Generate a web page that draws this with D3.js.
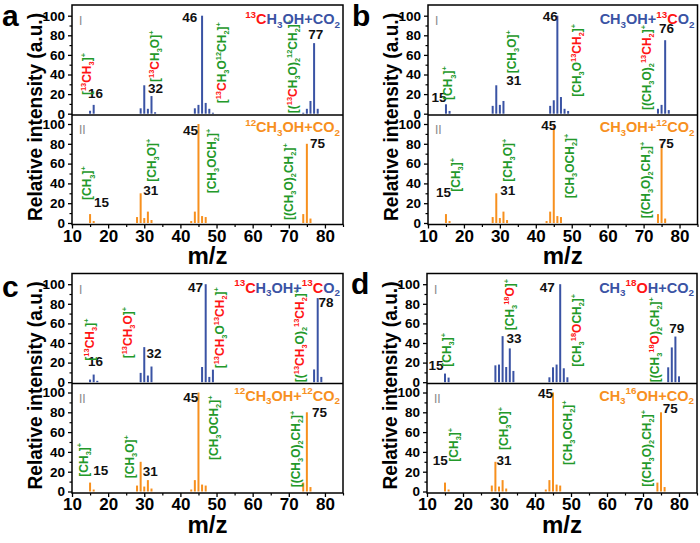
<!DOCTYPE html>
<html><head><meta charset="utf-8">
<script src="https://cdn.jsdelivr.net/npm/d3@7"></script>
<style>body{margin:0;background:#fff}svg{display:block}</style>
</head><body>
<script>
// ---------------- DATA ----------------
const xTicks = [10,20,30,40,50,60,70,80];
const yTicks = [0,20,40,60,80,100];

// panel a, spectrum I (13CH3OH + CO2)
const mzA = [15,16,29,30,31,32,33,44,45,46,47,48,49,74,75,76,77,78];
const intA = [3,9,5.5,29,5,18,1.5,5.5,9,100,11,5,1,1,5,13,72,5];
// panel b, spectrum I (CH3OH + 13CO2)
const mzB = [15,16,28,29,30,31,44,45,46,47,48,49,74,75,76,77];
const intB = [9.6,2.8,8,29,9,13,8,13.7,100,17,5,2.8,5,9,75,3.7];
// panel c, spectrum I (13CH3OH + 13CO2)
const mzC = [15,16,17,29,30,31,32,46,47,48,49,77,78,79];
const intC = [2.7,7.8,1.4,9.5,35.8,6.8,16,15.5,100,5.4,12.8,13,85.8,5.4];
// panel d, spectrum I (CH3 18OH + CO2)
const mzD = [15,16,29,30,31,32,33,34,44,45,46,47,48,49,77,78,79,80];
const intD = [8.8,4.7,17.2,18,47,15.5,34.5,11.5,5,15.2,18,100,14.2,5,15.2,35.5,46.6,6];
// spectrum II (unlabelled reference, same in all panels)
const mzRef = [15,16,28,29,30,31,32,43,44,45,46,47,74,75,76];
const intRef = [9,2,6,30,5,11.5,3,2,11.5,100,7,6,9,80,4.5];

// titles ({} = red part, ^ superscript, _ subscript)
const titlesTop = ["{^13C}H_3OH+CO_2","CH_3OH+{^13C}O_2","{^13C}H_3OH+{^13C}O_2","CH_3{^18O}H+CO_2"];
const titlesBot = ["^12CH_3OH+CO_2","CH_3OH+^12CO_2","^12CH_3OH+^12CO_2","CH_3^16OH+CO_2"];

// fragment labels: [markup, m/z anchor, intensity anchor]
const fragA = [["[{^13CH_3}]^+",14,19],["[{^13C}H_3O]^+",32.9,32.4],["[{^13C}H_3O^12CH_2]^+",51.5,10.6],["[({^13C}H_3O)_2^12CH_2]^+",71.1,0.5]];
const fragB = [["[CH_3]^+",15.6,14],["[CH_3O]^+",33.2,41.2],["[CH_3O{^13CH_2}]^+",51.4,17.3],["[(CH_3O)_2{^13CH_2}]^+",70.8,3.8]];
const fragC = [["[{^13CH_3}]^+",14.9,22],["[{^13CH_3O}]^+",25.5,24.4],["[{^13CH}_3O{^13CH_2}]^+",50.9,14.2],["[({^13CH_3}O)_2{^13CH_2}]^+",73.1,0]];
const fragD = [["[CH_3]^+",15.5,15.8],["[CH_3{^18O}]^+",33,53],["[CH_3{^18O}CH_2]^+",51.5,15.8],["[(CH_3{^18O})_2CH_2]^+",73.2,0]];
const fragRefA = [["[CH_3]^+",14.2,23.2],["[CH_3O]^+",32.1,41.7],["[CH_3OCH_2]^+",48.7,30],["[(CH_3O)_2CH_2]^+",69.9,3]];
const fragRefB = [["[CH_3]^+",17.8,31.6],["[CH_3O]^+",32.2,41.7],["[CH_3OCH_2]^+",49.3,25],["[(CH_3O)_2CH_2]^+",70.5,4.7]];
const fragRefC = [["[CH_3]^+",13.1,15],["[CH_3O]^+",25.9,13.4],["[CH_3OCH_2]^+",49.1,31.8],["[(CH_3O)_2CH_2]^+",71.8,4.2]];
const fragRefD = [["[CH_3]^+",17.3,30.1],["[CH_3O]^+",31.4,41.9],["[CH_3OCH_2]^+",49.1,26.8],["[(CH_3O)_2CH_2]^+",70.9,4.8]];

// peak number labels: [text, m/z anchor (left), intensity anchor]
const numA = [["16",14.4,16],["32",31.05,20.8],["46",40.5,94],["77",75.4,76]];
const numB = [["15",11,12.2],["31",31.8,29.3],["46",41.9,95],["76",74.3,82]];
const numC = [["16",14.4,16.5],["32",30.6,25],["47",42.1,92.3],["78",78.2,77]];
const numD = [["15",10.4,12.4],["33",32.1,39.7],["47",41.3,92.3],["79",77.3,50]];
const numRefA = [["15",16.1,16.5],["31",29.75,28.3],["45",40.75,88.9],["75",75.9,75.5]];
const numRefB = [["15",12.2,26.6],["31",30.1,28.3],["45",41.5,94],["75",74.2,75.5]];
const numRefC = [["15",15.9,16.7],["31",29.6,15.7],["45",40.8,90.7],["75",76.4,75.5]];
const numRefD = [["15",11.6,26.8],["31",29.3,26.8],["45",40.8,94.1],["75",75.5,79]];

// ---------------- LAYOUT / STYLE ----------------
const FONT = "'Liberation Sans', Arial, Helvetica, sans-serif";
const BLUE = "#3a53a4", ORANGE = "#f7901e", RED = "#ff1414", GREEN = "#23992a";
const panels = [
  {id:"a", left:72, right:343, T:5, lx:2, ly:26, top:{mz:mzA,v:intA,frag:fragA,num:numA}, bot:{mz:mzRef,v:intRef,frag:fragRefA,num:numRefA}},
  {id:"b", left:428, right:697.5, T:5, lx:352, ly:26, top:{mz:mzB,v:intB,frag:fragB,num:numB}, bot:{mz:mzRef,v:intRef,frag:fragRefB,num:numRefB}},
  {id:"c", left:72, right:343, T:273.5, lx:2, ly:297, top:{mz:mzC,v:intC,frag:fragC,num:numC}, bot:{mz:mzRef,v:intRef,frag:fragRefC,num:numRefC}},
  {id:"d", left:427, right:697, T:273.5, lx:351, ly:294, top:{mz:mzD,v:intD,frag:fragD,num:numD}, bot:{mz:mzRef,v:intRef,frag:fragRefD,num:numRefD}}
];

const svg = d3.select("body").append("svg").attr("width",700).attr("height",543)
  .style("font-family",FONT);

function parse(markup){
  const segs=[]; let red=false;
  for(let i=0;i<markup.length;i++){
    const c=markup[i];
    if(c==="{"){red=true;continue;}
    if(c==="}"){red=false;continue;}
    if(c==="^"||c==="_"){
      let t=""; i++;
      while(i<markup.length && /[0-9+]/.test(markup[i])){t+=markup[i];i++;}
      i--;
      segs.push({t,red,mode:c==="^"?"sup":"sub"});
      continue;
    }
    const last=segs[segs.length-1];
    if(last && last.mode==="n" && last.red===red) last.t+=c;
    else segs.push({t:c,red,mode:"n"});
  }
  return segs;
}
function rich(text, markup, base, fs, small){
  let cur=0;
  parse(markup).forEach(s=>{
    const target = s.mode==="sup" ? -0.42*fs : s.mode==="sub" ? 0.26*fs : 0;
    text.append("tspan").text(s.t)
      .attr("fill", s.red?RED:base)
      .attr("font-size", s.mode==="n"? fs : fs*small)
      .attr("dy", target-cur);
    cur=target;
  });
}

panels.forEach((p,idx)=>{
  const g = svg.append("g");
  const x = d3.scaleLinear().domain([10,85]).range([p.left,p.right]);
  const yTop = d3.scaleLinear().domain([0,100]).range([p.T+108.7,p.T+10.7]);
  const yBot = d3.scaleLinear().domain([0,100]).range([p.T+218,p.T+119]);
  const bottom = p.T+219.5;

  // y axes
  [yTop,yBot].forEach(y=>{
    const ax = g.append("g").attr("transform",`translate(${p.left},0)`)
      .call(d3.axisLeft(y).tickValues(yTicks).tickSize(4).tickPadding(3));
    ax.select(".domain").remove();
    ax.selectAll("line").attr("stroke","#000").attr("stroke-width",1.3);
    ax.selectAll("text").attr("font-size",13.5).attr("font-weight","bold").attr("font-family",FONT).attr("fill","#000");
    const mn = g.append("g").attr("transform",`translate(${p.left},0)`)
      .call(d3.axisLeft(y).tickValues([10,30,50,70,90]).tickSize(2.5).tickFormat(""));
    mn.select(".domain").remove();
    mn.selectAll("line").attr("stroke","#000").attr("stroke-width",1.2);
  });
  // x axis
  const xa = g.append("g").attr("transform",`translate(0,${bottom})`)
    .call(d3.axisBottom(x).tickValues(xTicks).tickSize(4).tickPadding(1));
  xa.select(".domain").remove();
  xa.selectAll("line").attr("stroke","#000").attr("stroke-width",1.3);
  xa.selectAll("text").attr("font-size",17).attr("font-weight","bold").attr("font-family",FONT).attr("fill","#000");
  const xm = g.append("g").attr("transform",`translate(0,${bottom})`)
    .call(d3.axisBottom(x).tickValues([15,25,35,45,55,65,75,85]).tickSize(2.5).tickFormat(""));
  xm.select(".domain").remove();
  xm.selectAll("line").attr("stroke","#000").attr("stroke-width",1.2);

  // bars
  [[p.top,yTop,BLUE],[p.bot,yBot,ORANGE]].forEach(([d,y,col])=>{
    g.append("g").selectAll("rect").data(d.mz.map((m,i)=>({m,v:d.v[i]}))).join("rect")
      .attr("x",e=>x(e.m)-1).attr("width",2)
      .attr("y",e=>y(e.v)).attr("height",e=>y(0)-y(e.v)).attr("fill",col);
    // number labels
    g.append("g").selectAll("text").data(d.num).join("text")
      .attr("x",e=>x(e[1])).attr("y",e=>y(e[2])).text(e=>e[0])
      .attr("font-size",13.5).attr("font-weight","bold").attr("fill","#111");
    // fragment labels (rotated)
    d.frag.forEach(f=>{
      const fs=12;
      const t = g.append("text")
        .attr("transform",`translate(${x(f[1])+fs*0.36},${y(f[2])}) rotate(-90)`)
        .attr("font-weight","bold");
      rich(t,f[0],GREEN,fs,0.62);
    });
  });

  // frame and divider
  g.append("rect").attr("x",p.left).attr("y",p.T).attr("width",p.right-p.left).attr("height",bottom-p.T)
    .attr("fill","none").attr("stroke","#000").attr("stroke-width",1.5);
  g.append("line").attr("x1",p.left).attr("x2",p.right).attr("y1",p.T+110).attr("y2",p.T+110)
    .attr("stroke","#000").attr("stroke-width",1.5);

  // roman numerals
  g.append("text").attr("x",p.left+7).attr("y",p.T+20).text("I").attr("font-size",12).attr("fill","#888");
  g.append("text").attr("x",p.left+7).attr("y",p.T+129).text("II").attr("font-size",12).attr("fill","#888");

  // titles
  const t1 = g.append("text").attr("x",p.right-3).attr("y",p.T+19).attr("text-anchor","end").attr("font-weight","bold");
  rich(t1,titlesTop[idx],BLUE,14.5,0.68);
  const t2 = g.append("text").attr("x",p.right-3).attr("y",p.T+127).attr("text-anchor","end").attr("font-weight","bold");
  rich(t2,titlesBot[idx],ORANGE,14.5,0.68);

  // axis titles
  g.append("text").attr("transform",`translate(${p.left-30},${p.T+112}) rotate(-90)`)
    .attr("text-anchor","middle").attr("font-size",20).attr("font-weight","bold")
    .attr("textLength",208).attr("lengthAdjust","spacingAndGlyphs")
    .text("Relative intensity (a.u.)");
  g.append("text").attr("x",(p.left+p.right)/2).attr("y",p.T+259).attr("text-anchor","middle")
    .attr("font-size",24).attr("font-weight","bold").text("m/z");

  // panel letter
  g.append("text").attr("x",p.lx).attr("y",p.ly).attr("font-size",30).attr("font-weight","bold").text(p.id);
});
</script>
</body></html>
